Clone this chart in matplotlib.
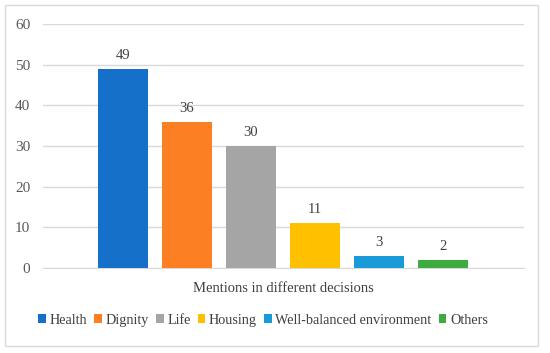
import matplotlib.pyplot as plt
from matplotlib.patches import Rectangle

categories = ["Health", "Dignity", "Life", "Housing", "Well-balanced environment", "Others"]
mentions = [49, 36, 30, 11, 3, 2]
colors = ["#1570c9", "#fd7f23", "#a5a5a5", "#ffc000", "#1a9ad9", "#3eab40"]
yticks = [0, 10, 20, 30, 40, 50, 60]

plt.rcParams["font.family"] = ["Liberation Serif", "DejaVu Serif"]
text_col = "#595959"

fig = plt.figure(figsize=(5.5, 3.53), dpi=100)
ax = fig.add_axes([0.078, 0.241, 0.875, 0.691])

handles = []
for i, (cat, val, col) in enumerate(zip(categories, mentions, colors)):
    b = ax.bar(i, val, width=0.78, color=col, label=cat, zorder=3)
    handles.append(b)
    ax.annotate(str(val), (i, val), xytext=(0, 5), textcoords="offset points",
                ha="center", va="bottom", fontsize=10.5, color="#404040")

ax.set_xlim(-1.25, 6.27)
ax.set_ylim(0, 60)
ax.set_yticks(yticks)
ax.set_xticks([])
ax.tick_params(axis="y", length=0, labelsize=11, labelcolor=text_col, pad=9)
ax.grid(axis="y", color="#d9d9d9", linewidth=1, zorder=0)
for s in ["top", "right", "left"]:
    ax.spines[s].set_visible(False)
ax.spines["bottom"].set_color("#d9d9d9")
ax.set_xlabel("Mentions in different decisions", fontsize=10.5, color="#404040", labelpad=10)

fig.legend(handles=handles, loc="center", bbox_to_anchor=(0.478, 0.093), ncol=6,
           frameon=False, fontsize=10.2, handlelength=0.55, handleheight=0.55,
           handletextpad=0.25, columnspacing=0.5, labelcolor="#404040")

fig.patches.append(Rectangle((5 / 550, 7 / 353), 533 / 550, 341 / 353, transform=fig.transFigure,
                             fill=False, edgecolor="#d9d9d9", linewidth=1))

fig.savefig("out.png", dpi=100)
